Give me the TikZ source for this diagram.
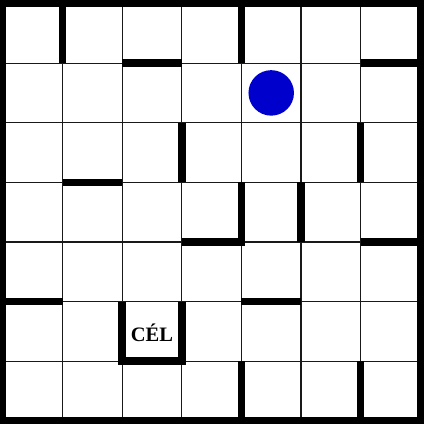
\documentclass[tikz,border=0pt]{standalone}
\usepackage{fontspec}
\setmainfont{Liberation Serif}
\definecolor{ballblue}{RGB}{0,0,204}
\begin{document}
\begin{tikzpicture}[x=59.6pt,y=-59.6pt,
  gridline/.style={line width=1.2pt,black!90},
  wall/.style={line width=7.5pt,black,line cap=butt,line join=miter},
  border/.style={line width=7pt,black,line join=miter},
  ball/.style={circle,fill=ballblue,minimum size=45.5pt,inner sep=0pt},
  goaltext/.style={font=\bfseries\fontsize{20.5}{24}\selectfont,inner sep=0pt}
  ]
\fill[white] (-0.0503,-0.0587) rectangle (7.047,7.055);
\useasboundingbox (-0.0503,-0.0587) rectangle (7.047,7.055);
% grid
\foreach \i in {1,...,6} {
  \draw[gridline] (\i,0) -- (\i,7);
  \draw[gridline] (0,\i) -- (7,\i);
}
% outer border
\draw[border] (0,0) rectangle (7,7);
% vertical walls
\draw[wall] (1,0) -- (1,1);
\draw[wall] (4,0) -- (4,1);
\draw[wall] (3,2) -- (3,3);
\draw[wall] (6,2) -- (6,3);
\draw[wall] (5,3) -- (5,4);
\draw[wall] (4,6) -- (4,7);
\draw[wall] (6,6) -- (6,7);
% horizontal walls
\draw[wall] (2,1) -- (3,1);
\draw[wall] (6,1) -- (7,1);
\draw[wall] (1,3) -- (2,3);
\draw[wall] (6,4) -- (7,4);
\draw[wall] (4,5) -- (5,5);
\draw[wall] (0,5) -- (1,5);
% L-shaped wall
\draw[wall] (3,4) -- (4,4) -- (4,3);
% goal cell walls
\draw[wall] (2,5) -- (2,6) -- (3,6) -- (3,5);
% ball and goal label
\node[ball] (player) at (4.5,1.5) {};
\node[goaltext] (goal) at (2.5,5.53) {CÉL};
\end{tikzpicture}
\end{document}
